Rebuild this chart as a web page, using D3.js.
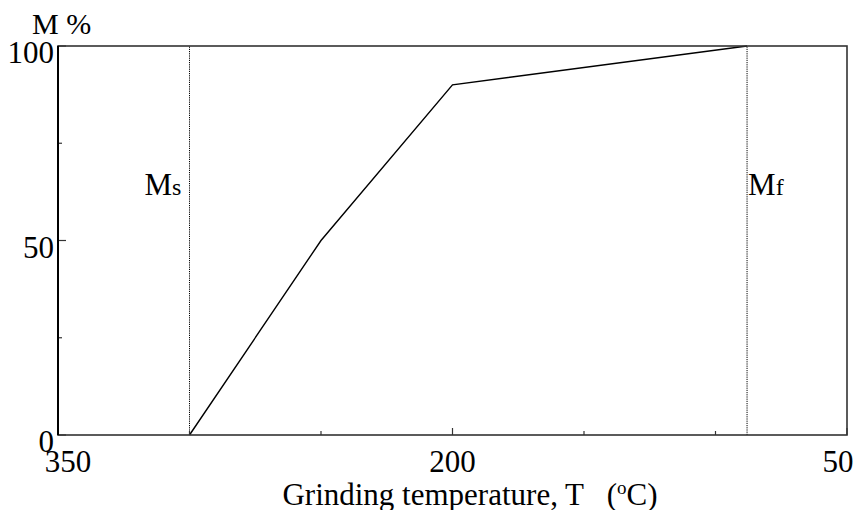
<!DOCTYPE html>
<html>
<head>
<meta charset="utf-8">
<script src="https://cdn.jsdelivr.net/npm/d3@7"></script>
<style>
  body { margin: 0; background: #fff; }
  svg text { font-family: "Liberation Serif", "Times New Roman", serif; fill: #000; }
</style>
</head>
<body>
<script>
// Grinding temperature (deg C) vs martensite fraction (%)
var temps = [300, 250, 200, 88];
var martensite = [0, 50, 90, 100];

// Ms / Mf temperatures, drawn as dotted verticals
var msTemp = 300;
var mfTemp = 88;

// Axis ticks
var xTicks = [350, 300, 250, 200, 150, 100, 50];
var xLabels = [350, 200, 50];
var yTicks = [0, 25, 50, 75, 100];
var yLabels = [0, 50, 100];

var width = 858, height = 510;
var margin = {top: 46, right: 11, bottom: 75, left: 58};

var svg = d3.select('body').append('svg')
  .attr('width', width)
  .attr('height', height);

var x = d3.scaleLinear().domain([350, 50]).range([margin.left, width - margin.right]);
var y = d3.scaleLinear().domain([0, 100]).range([height - margin.bottom, margin.top]);

var plotLeft = x(350), plotRight = x(50), plotTop = y(100), plotBottom = y(0);

// Dotted Ms and Mf lines
[msTemp, mfTemp].forEach(function(t) {
  svg.append('line')
    .attr('x1', x(t)).attr('x2', x(t))
    .attr('y1', y(0)).attr('y2', y(100))
    .attr('stroke', '#000')
    .attr('stroke-width', 1)
    .attr('stroke-dasharray', '1.2,1');
});

// The curve itself
var line = d3.line()
  .x(function(d, i) { return x(temps[i]); })
  .y(function(d) { return y(d); });

svg.append('path')
  .datum(martensite)
  .attr('d', line)
  .attr('fill', 'none')
  .attr('stroke', '#000')
  .attr('stroke-width', 1.4);

// Inward ticks, longer at labelled values
svg.append('g').selectAll('line')
  .data(xTicks)
  .enter().append('line')
  .attr('x1', function(d) { return x(d); })
  .attr('x2', function(d) { return x(d); })
  .attr('y1', plotBottom)
  .attr('y2', function(d) { return plotBottom - (xLabels.indexOf(d) >= 0 ? 7 : 4); })
  .attr('stroke', '#333')
  .attr('stroke-width', 1.2);

svg.append('g').selectAll('line')
  .data(yTicks)
  .enter().append('line')
  .attr('x1', plotLeft)
  .attr('x2', function(d) { return plotLeft + (yLabels.indexOf(d) >= 0 ? 8 : 4); })
  .attr('y1', function(d) { return y(d); })
  .attr('y2', function(d) { return y(d); })
  .attr('stroke', '#333')
  .attr('stroke-width', 1.2);

// Frame
svg.append('rect')
  .attr('x', plotLeft).attr('y', plotTop)
  .attr('width', plotRight - plotLeft).attr('height', plotBottom - plotTop)
  .attr('fill', 'none')
  .attr('stroke', '#333')
  .attr('stroke-width', 1.6);
svg.append('line')
  .attr('x1', plotLeft).attr('x2', plotLeft)
  .attr('y1', plotTop).attr('y2', plotBottom)
  .attr('stroke', '#000')
  .attr('stroke-width', 2);

// Tick labels
svg.append('g').selectAll('text')
  .data(xLabels)
  .enter().append('text')
  .attr('x', function(d, i) { return x(d) + (i === 0 ? 10 : i === xLabels.length - 1 ? -9 : 0); })
  .attr('y', plotBottom + 37)
  .attr('text-anchor', 'middle')
  .style('font-size', '31px')
  .text(function(d) { return d; });

svg.append('g').selectAll('text')
  .data(yLabels)
  .enter().append('text')
  .attr('x', plotLeft - 4)
  .attr('y', function(d) { return y(d) + 17; })
  .attr('text-anchor', 'end')
  .style('font-size', '31px')
  .text(function(d) { return d; });

// Axis titles
svg.append('text')
  .attr('x', 32).attr('y', 34)
  .style('font-size', '30px')
  .text('M %');

var xt = svg.append('text')
  .attr('x', 470).attr('y', 505)
  .attr('text-anchor', 'middle')
  .style('font-size', '31px');
xt.append('tspan').text('Grinding temperature, T \u00a0\u00a0(');
xt.append('tspan').attr('dy', -11).style('font-size', '19px').text('o');
xt.append('tspan').attr('dy', 11).text('C)');

// Ms / Mf labels
function phaseLabel(px, sub) {
  var t = svg.append('text')
    .attr('x', px).attr('y', 195)
    .style('font-size', '31px');
  t.append('tspan').text('M');
  t.append('tspan').style('font-size', '24px').text(sub);
  return t;
}
phaseLabel(x(msTemp) - 45, 's');
phaseLabel(x(mfTemp) + 1, 'f');
</script>
</body>
</html>
